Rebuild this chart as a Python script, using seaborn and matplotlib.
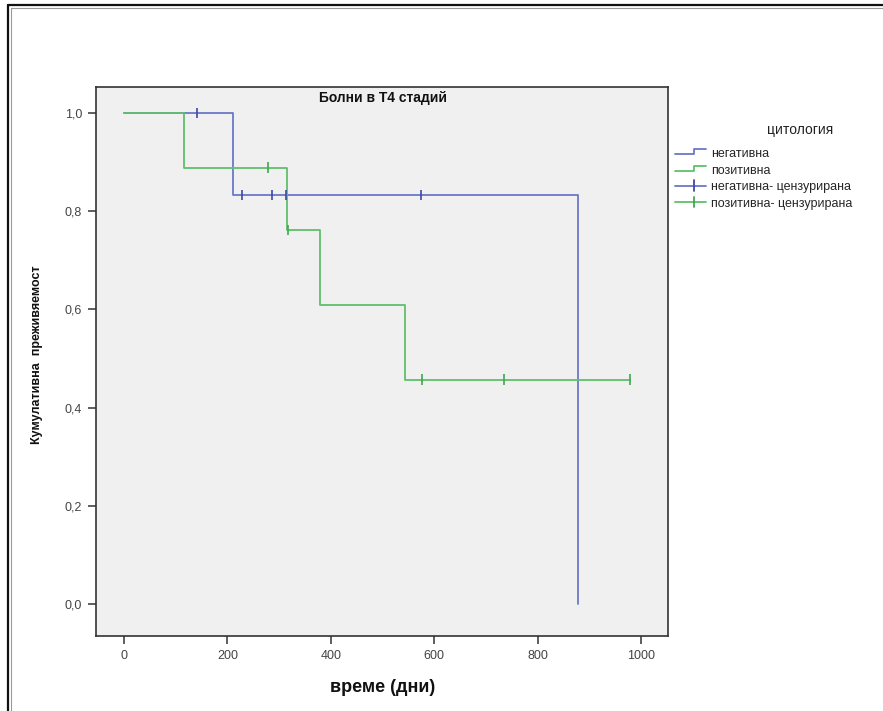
import matplotlib
matplotlib.use("Agg")
import matplotlib.pyplot as plt
from matplotlib.lines import Line2D
from matplotlib.legend_handler import HandlerBase
import pandas as pd
import seaborn as sns

# Kaplan-Meier steps per cytology group
groups = ["негативна", "позитивна"]
neg_times = [0, 210, 878]
neg_surv = [1.0, 0.833, 0.0]
pos_times = [0, 117, 315, 380, 543, 979]
pos_surv = [1.0, 0.889, 0.762, 0.610, 0.457, 0.457]

# censored observations
neg_cens_times = [141, 229, 286, 313, 574]
neg_cens_surv = [1.0, 0.833, 0.833, 0.833, 0.833]
pos_cens_times = [278, 318, 576, 735, 979]
pos_cens_surv = [0.889, 0.762, 0.457, 0.457, 0.457]

x_ticks = [0, 200, 400, 600, 800, 1000]
y_ticks = [0.0, 0.2, 0.4, 0.6, 0.8, 1.0]
y_tick_labels = ["0,0", "0,2", "0,4", "0,6", "0,8", "1,0"]

title = "Болни в T4 стадий"
x_label = "време (дни)"
y_label = "Кумулативна  преживяемост"
legend_title = "цитология"
legend_labels = ["негативна", "позитивна", "негативна- цензурирана", "позитивна- цензурирана"]

line_colors = {"негативна": "#6a78c8", "позитивна": "#5fc06c"}
cens_colors = {"негативна": "#3a4aa8", "позитивна": "#3fa84e"}

steps = pd.concat([
    pd.DataFrame({"t": neg_times, "s": neg_surv, "group": groups[0]}),
    pd.DataFrame({"t": pos_times, "s": pos_surv, "group": groups[1]}),
], ignore_index=True)
cens = pd.concat([
    pd.DataFrame({"t": neg_cens_times, "s": neg_cens_surv, "group": groups[0]}),
    pd.DataFrame({"t": pos_cens_times, "s": pos_cens_surv, "group": groups[1]}),
], ignore_index=True)

sns.set_theme(style="white")
plt.rcParams["font.family"] = ["Liberation Sans", "DejaVu Sans"]

fig = plt.figure(figsize=(8.83, 7.11), dpi=100)
fig.patch.set_facecolor("white")
ax = fig.add_axes([96 / 883, 1 - 636 / 711, (668 - 96) / 883, (636 - 87) / 711])
ax.set_facecolor("#f0f0f0")

sns.lineplot(data=steps, x="t", y="s", hue="group", palette=line_colors,
             estimator=None, sort=False, drawstyle="steps-post",
             linewidth=1.3, legend=False, ax=ax)
sns.scatterplot(data=cens, x="t", y="s", hue="group", palette=cens_colors,
                marker="|", s=60, linewidth=1.2, legend=False, ax=ax, zorder=3)

ax.set_xlim(-54, 1052)
ax.set_ylim(-0.065, 1.053)
ax.set_xticks(x_ticks)
ax.set_xticklabels([str(v) for v in x_ticks])
ax.set_yticks(y_ticks)
ax.set_yticklabels(y_tick_labels)
ax.set_xlabel("")
ax.set_ylabel("")
ax.tick_params(axis="both", which="major", direction="out", length=6, width=1.1,
               color="#333333", labelsize=9, labelcolor="#444444", pad=4,
               bottom=True, left=True)
for sp in ax.spines.values():
    sp.set_color("#333333")
    sp.set_linewidth(1.2)

fig.text(383 / 883, 1 - 98 / 711, title, ha="center", va="center",
         fontsize=10, fontweight="bold", color="#111111")
fig.text(383 / 883, 1 - 688 / 711, x_label, ha="center", va="center",
         fontsize=13, fontweight="bold", color="#111111")
fig.text(37 / 883, 1 - 355 / 711, y_label, ha="center", va="center",
         rotation=90, fontsize=9, fontweight="bold", color="#111111")


class StepHandle(HandlerBase):
    def create_artists(self, legend, orig, xd, yd, w, h, fontsize, trans):
        x0, y0 = -xd, -yd
        xs = [x0, x0 + 0.62 * w, x0 + 0.62 * w, x0 + w]
        ys = [y0 + 0.3 * h, y0 + 0.3 * h, y0 + 0.9 * h, y0 + 0.9 * h]
        ln = Line2D(xs, ys, color=orig.get_color(), linewidth=1.3, transform=trans)
        return [ln]


class CensorHandle(HandlerBase):
    def create_artists(self, legend, orig, xd, yd, w, h, fontsize, trans):
        x0, y0 = -xd, -yd
        ln = Line2D([x0, x0 + w], [y0 + 0.5 * h] * 2, color=orig.get_color(),
                    linewidth=1.3, transform=trans)
        tick = Line2D([x0 + 0.6 * w] * 2, [y0 - 0.1 * h, y0 + 1.1 * h],
                      color=orig.get_markeredgecolor(), linewidth=1.3, transform=trans)
        return [ln, tick]


h_neg = Line2D([], [], color=line_colors[groups[0]])
h_pos = Line2D([], [], color=line_colors[groups[1]])
h_neg_c = Line2D([], [], color=line_colors[groups[0]], markeredgecolor=cens_colors[groups[0]])
h_pos_c = Line2D([], [], color=line_colors[groups[1]], markeredgecolor=cens_colors[groups[1]])
leg = fig.legend([h_neg, h_pos, h_neg_c, h_pos_c], legend_labels,
                 handler_map={h_neg: StepHandle(), h_pos: StepHandle(),
                              h_neg_c: CensorHandle(), h_pos_c: CensorHandle()},
                 loc="upper left", bbox_to_anchor=(675 / 883, 1 - 148 / 711),
                 frameon=False, fontsize=9, handlelength=2.5, handletextpad=0.35,
                 labelspacing=0.36, borderpad=0, borderaxespad=0)
fig.text(800 / 883, 1 - 130 / 711, legend_title, ha="center", va="center",
         fontsize=10, color="#222222")

# outer chart frame (left and top edges)
fig.add_artist(Line2D([8 / 883, 8 / 883], [0, 1 - 5 / 711], color="#111111",
                      linewidth=1.6, transform=fig.transFigure))
fig.add_artist(Line2D([8 / 883, 1], [1 - 5 / 711, 1 - 5 / 711], color="#111111",
                      linewidth=1.6, transform=fig.transFigure))
fig.add_artist(Line2D([10.5 / 883, 10.5 / 883], [0, 1 - 7.5 / 711], color="#9a9a9a",
                      linewidth=0.8, transform=fig.transFigure))
fig.add_artist(Line2D([10.5 / 883, 1], [1 - 7.5 / 711, 1 - 7.5 / 711], color="#9a9a9a",
                      linewidth=0.8, transform=fig.transFigure))

fig.savefig("out.png", dpi=100, facecolor="white")
